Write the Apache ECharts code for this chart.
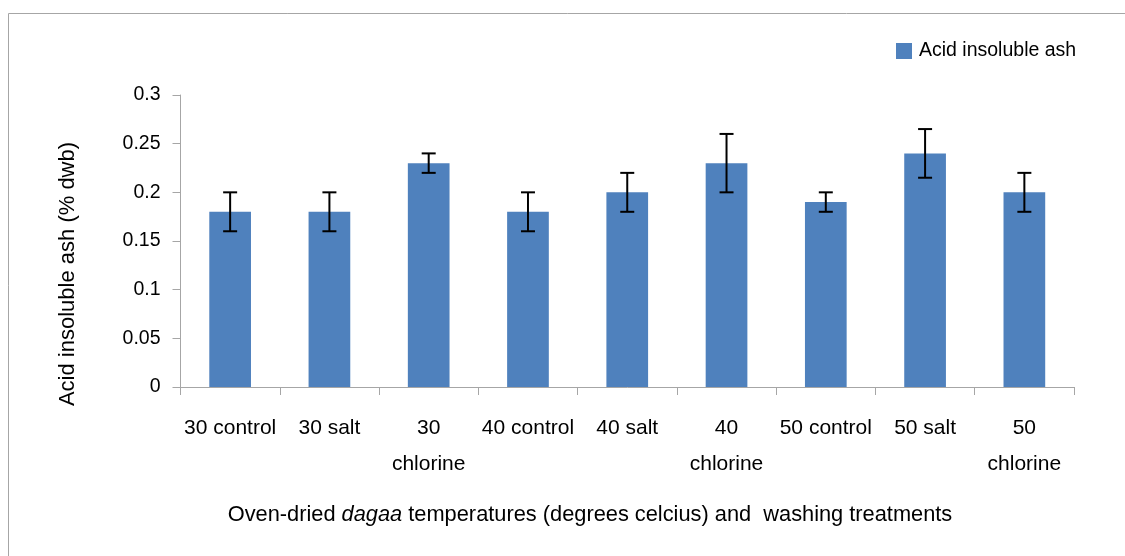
<!DOCTYPE html>
<html>
<head>
<meta charset="utf-8">
<script src="https://cdn.jsdelivr.net/npm/echarts@6/dist/echarts.min.js"></script>
<style>html,body{margin:0;padding:0;background:#fff}#c{width:1125px;height:556px}</style>
</head>
<body>
<div id="c"></div>
<script>
const categories = ['30 control', '30 salt', '30 chlorine', '40 control', '40 salt', '40 chlorine', '50 control', '50 salt', '50 chlorine'];
const ashValues = [0.18, 0.18, 0.23, 0.18, 0.20, 0.23, 0.19, 0.24, 0.20];
const errLow = [0.16, 0.16, 0.22, 0.16, 0.18, 0.20, 0.18, 0.215, 0.18];
const errHigh = [0.20, 0.20, 0.24, 0.20, 0.22, 0.26, 0.20, 0.265, 0.22];
const seriesName = 'Acid insoluble ash';
const yTitle = 'Acid insoluble ash (% dwb)';

const FONT = '"Liberation Sans", Arial, sans-serif';
const chart = echarts.init(document.getElementById('c'), null, {renderer: 'canvas'});

const errData = categories.map((c, i) => [i, errLow[i], errHigh[i]]);

chart.setOption({
  animation: false,
  backgroundColor: '#fff',
  textStyle: {fontFamily: FONT, color: '#000'},
  grid: {left: 180.5, right: 51, top: 95, bottom: 169},
  legend: {
    data: [seriesName],
    left: 891, top: 36,
    icon: 'rect', itemWidth: 16, itemHeight: 16, itemGap: 5,
    textStyle: {fontFamily: FONT, fontSize: 19.5, color: '#000', padding: [0, 0, 0, 2]}
  },
  xAxis: {
    type: 'category',
    data: categories,
    axisLine: {lineStyle: {color: '#a6a6a6', width: 1}},
    axisTick: {show: true, length: 8, lineStyle: {color: '#a6a6a6'}},
    axisLabel: {
      interval: 0, margin: 23, color: '#000', fontFamily: FONT, fontSize: 21, lineHeight: 36,
      formatter: v => v.replace(' chlorine', '\nchlorine')
    }
  },
  yAxis: {
    type: 'value', min: 0, max: 0.3, interval: 0.05,
    axisLine: {show: true, lineStyle: {color: '#a6a6a6', width: 1}},
    axisTick: {show: true, length: 8, lineStyle: {color: '#a6a6a6'}},
    splitLine: {show: false},
    axisLabel: {margin: 20, color: '#000', fontFamily: FONT, fontSize: 19.5}
  },
  graphic: [
    {type: 'rect', silent: true, z: -10,
     shape: {x: 8.5, y: 13.5, width: 1200, height: 700},
     style: {fill: 'none', stroke: '#a6a6a6', lineWidth: 1}},
    {type: 'text', x: 68, y: 274, rotation: Math.PI / 2,
     style: {text: yTitle, fontFamily: FONT, fontSize: 22, fill: '#000', textAlign: 'center', textVerticalAlign: 'middle'}},
    {type: 'text', x: 590, y: 515,
     style: {
       text: 'Oven-dried {i|dagaa} temperatures (degrees celcius) and  washing treatments',
       fontFamily: FONT, fontSize: 21.8, fill: '#000', textAlign: 'center', textVerticalAlign: 'middle',
       rich: {i: {fontStyle: 'italic', fontFamily: FONT, fontSize: 21.8, fill: '#000'}}
     }}
  ],
  series: [
    {
      name: seriesName, type: 'bar', data: ashValues, barWidth: '42%',
      itemStyle: {color: '#4f81bd'}
    },
    {
      name: 'error', type: 'custom', data: errData, z: 5,
      encode: {x: 0, y: [1, 2]},
      renderItem: function (params, api) {
        const x = api.value(0);
        const lo = api.coord([x, api.value(1)]);
        const hi = api.coord([x, api.value(2)]);
        const hw = 7;
        const st = {stroke: '#000', lineWidth: 2};
        return {
          type: 'group',
          children: [
            {type: 'line', shape: {x1: lo[0], y1: lo[1], x2: hi[0], y2: hi[1]}, style: st},
            {type: 'line', shape: {x1: hi[0] - hw, y1: hi[1], x2: hi[0] + hw, y2: hi[1]}, style: st},
            {type: 'line', shape: {x1: lo[0] - hw, y1: lo[1], x2: lo[0] + hw, y2: lo[1]}, style: st}
          ]
        };
      }
    }
  ]
});
</script>
</body>
</html>
